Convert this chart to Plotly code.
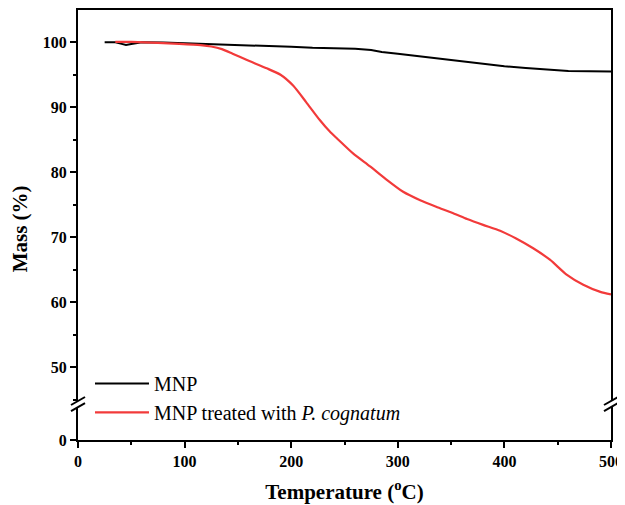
import plotly.graph_objects as go

# ---- data ----
mnp_temp = [25, 35, 40, 45, 50, 60, 80, 100, 120, 140, 160, 180, 200, 220, 240, 260,
            275, 285, 300, 320, 340, 360, 380, 400, 420, 440, 460, 480, 500]
mnp_mass = [100.0, 100.0, 99.8, 99.6, 99.75, 100.0, 99.95, 99.85, 99.8, 99.65, 99.5,
            99.4, 99.3, 99.15, 99.05, 99.0, 98.8, 98.5, 98.25, 97.85, 97.45, 97.05,
            96.6, 96.3, 96.05, 95.8, 95.6, 95.55, 95.5]

treated_temp = [35, 50, 75, 95, 115, 125, 135, 145, 158, 177, 190, 202, 214, 227, 236,
                243, 258, 274, 290, 305, 321, 336, 352, 365, 380, 396, 411, 427, 443,
                458, 474, 490, 500]
treated_mass = [100.05, 100.05, 99.9, 99.75, 99.55, 99.35, 98.95, 98.25, 97.3, 96.0, 95.0,
                93.3, 90.8, 88.0, 86.3, 85.2, 82.9, 80.9, 78.8, 77.0, 75.7, 74.7, 73.7,
                72.8, 71.9, 71.0, 69.8, 68.3, 66.5, 64.3, 62.7, 61.6, 61.2]

x_ticks = [0, 100, 200, 300, 400, 500]
y_upper_ticks = [50, 60, 70, 80, 90, 100]
y_lower_ticks = [0]

FONT = "Liberation Serif"
LOW_TOP = 0.0767
UP_BOT = 0.0907
BLACK_LINE = dict(color="black", width=2)
RED_LINE = dict(color="#F23A3A", width=2.2, shape="spline", smoothing=0.6)

fig = go.Figure()
# upper (visible) panel
fig.add_trace(go.Scatter(x=mnp_temp, y=mnp_mass, mode="lines", name="MNP",
                         line=BLACK_LINE, xaxis="x", yaxis="y"))
fig.add_trace(go.Scatter(x=treated_temp, y=treated_mass, mode="lines",
                         name="MNP treated with <i>P. cognatum</i>",
                         line=RED_LINE, xaxis="x", yaxis="y"))
# the same series in the lower (0–5 %) panel of the broken axis: clipped, nothing falls there
fig.add_trace(go.Scatter(x=mnp_temp, y=mnp_mass, mode="lines", showlegend=False,
                         hoverinfo="skip", line=BLACK_LINE, xaxis="x2", yaxis="y2"))
fig.add_trace(go.Scatter(x=treated_temp, y=treated_mass, mode="lines", showlegend=False,
                         hoverinfo="skip", line=RED_LINE, xaxis="x2", yaxis="y2"))

tickfont = dict(family=FONT, size=16, color="black", weight="bold")
line_common = dict(showline=True, linecolor="black", linewidth=2, showgrid=False,
                   zeroline=False, automargin=False)
tick_common = dict(ticks="outside", tickcolor="black", tickwidth=2, ticklen=6,
                   tickfont=tickfont)

fig.update_layout(
    width=617, height=497,
    margin=dict(l=70, r=14, t=2, b=65, autoexpand=False),
    paper_bgcolor="white", plot_bgcolor="white",
    showlegend=True,
    legend=dict(x=0.0225, y=0.177, xanchor="left", yanchor="top",
                bgcolor="rgba(0,0,0,0)", itemwidth=54,
                font=dict(family=FONT, size=20, color="black"),
                tracegroupgap=0),
    xaxis=dict(domain=[0, 1], range=[0, 500], anchor="y", side="top",
               showticklabels=False, ticks="", **line_common),
    yaxis=dict(domain=[UP_BOT, 1], range=[44.8, 104.97], tickvals=y_upper_ticks,
               anchor="x", mirror=True,
               minor=dict(ticks="outside", dtick=5, ticklen=3, tickwidth=2, tickcolor="black"),
               **tick_common, **line_common),
    xaxis2=dict(domain=[0, 1], range=[0, 500], anchor="y2", tickvals=x_ticks,
                minor=dict(ticks="outside", dtick=50, ticklen=3, tickwidth=2, tickcolor="black"),
                title=dict(text="<b>Temperature (<sup>o</sup>C)</b>",
                           font=dict(family=FONT, size=21, color="black")),
                **tick_common, **line_common),
    yaxis2=dict(domain=[0, LOW_TOP], range=[0, 5], tickvals=y_lower_ticks,
                anchor="x2", mirror=True, **tick_common, **line_common),
    annotations=[dict(text="<b>Mass (%)</b>", textangle=-90, xref="paper", yref="paper",
                      x=0, y=0.49, xanchor="center", yanchor="middle", xshift=-58,
                      showarrow=False, font=dict(family=FONT, size=21, color="black"))],
)

# axis break marks
shapes = []
for xa in (0, 1):
    for ya in (LOW_TOP, UP_BOT):
        shapes.append(dict(type="line", xref="paper", yref="paper",
                           xsizemode="pixel", ysizemode="pixel",
                           xanchor=xa, yanchor=ya, x0=-7, x1=7, y0=-4, y1=4,
                           line=dict(color="black", width=2)))
fig.update_layout(shapes=shapes)

fig.write_html("out.html")
